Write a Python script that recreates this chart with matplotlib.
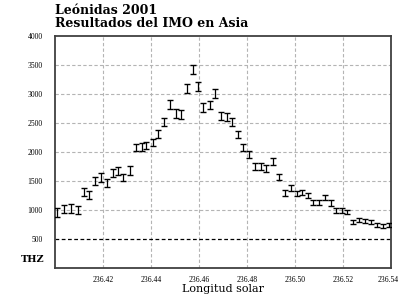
import matplotlib
matplotlib.use("Agg")
import matplotlib.pyplot as plt
import matplotlib.transforms as mtransforms

# ----------------------------
# Data
# ----------------------------
sol_long = [
    236.4008, 236.4038, 236.4067, 236.4096, 236.4121, 236.4142, 236.4167, 236.4192,
    236.4217, 236.4242, 236.4263, 236.4283, 236.4313, 236.4338, 236.4363, 236.4379,
    236.4408, 236.4429, 236.4454, 236.4479, 236.4504, 236.4525, 236.4550, 236.4575,
    236.4596, 236.4617, 236.4646, 236.4667, 236.4692, 236.4717, 236.4738, 236.4763,
    236.4783, 236.4808, 236.4833, 236.4858, 236.4879, 236.4908, 236.4933, 236.4958,
    236.4983, 236.5008, 236.5029, 236.5054, 236.5075, 236.5100, 236.5125, 236.5150,
    236.5171, 236.5196, 236.5217, 236.5242, 236.5267, 236.5292, 236.5317, 236.5342,
    236.5367, 236.5392,
]
zhr = [
    950, 1015, 1030, 1000, 1305, 1255, 1495, 1560,
    1460, 1630, 1665, 1560, 1680, 2075, 2090, 2110,
    2160, 2310, 2520, 2820, 2670, 2650, 3100, 3420,
    3130, 2770, 2810, 3010, 2620, 2600, 2520, 2300,
    2075, 1955, 1750, 1750, 1715, 1835, 1565, 1290,
    1375, 1290, 1305, 1255, 1135, 1135, 1220, 1120,
    985, 985, 965, 795, 830, 810, 795, 745,
    725, 745,
]
zhr_err = [
    75, 75, 75, 70, 70, 65, 70, 70,
    70, 70, 70, 65, 70, 65, 65, 65,
    65, 65, 70, 70, 75, 75, 80, 80,
    80, 75, 75, 75, 70, 70, 70, 65,
    65, 60, 55, 55, 55, 60, 55, 50,
    50, 45, 45, 45, 45, 45, 45, 45,
    40, 40, 40, 35, 35, 35, 35, 35,
    35, 35,
]
x_ticks = [236.42, 236.44, 236.46, 236.48, 236.50, 236.52, 236.54]
y_ticks = [500, 1000, 1500, 2000, 2500, 3000, 3500, 4000]

TITLE = "Leónidas 2001\nResultados del IMO en Asia"
XLABEL = "Longitud solar"

# ----------------------------
# Look
# ----------------------------
SERIF = ["DejaVu Serif"]
TICK_FONT = ["Liberation Serif"]
GRID_COLOR = "#b4b4b4"
SPINE_COLOR = "#404040"

fig = plt.figure(figsize=(4.0, 2.96), dpi=100)
ax = fig.add_axes([0.1375, 0.095, 0.84, 0.783])

ax.errorbar(sol_long, zhr, yerr=zhr_err, fmt="none", ecolor="black",
            elinewidth=0.9, capsize=2.3, capthick=1.0, zorder=3)

ax.set_xlim(236.40, 236.54)
ax.set_ylim(0, 4000)
ax.set_xticks(x_ticks)
ax.set_xticklabels([f"{v:.2f}" for v in x_ticks], family=TICK_FONT, fontsize=5.5)
ax.set_yticks(y_ticks)
ax.set_yticklabels([str(v) for v in y_ticks], family=TICK_FONT, fontsize=5.5)
ax.tick_params(axis="x", length=0, pad=6)
ax.tick_params(axis="y", length=0, pad=9)

# keep the last x label inside the canvas
last = ax.get_xticklabels()[-1]
last.set_transform(last.get_transform() +
                   mtransforms.ScaledTranslation(-3 / 100, 0, fig.dpi_scale_trans))

# Grid
for v in x_ticks[:-1]:
    ax.axvline(v, color=GRID_COLOR, linestyle=(0, (3, 2)), linewidth=0.8, zorder=1)
for v in y_ticks[1:-1]:
    ax.axhline(v, color=GRID_COLOR, linestyle=(0, (3, 2)), linewidth=0.8, zorder=1)
ax.axhline(500, color="black", linestyle=(0, (3, 2)), linewidth=0.9, zorder=1)

for s in ax.spines.values():
    s.set_color(SPINE_COLOR)
    s.set_linewidth(1.3)

# Texts
fig.text(0.1375, 0.985, TITLE, family=SERIF, fontweight="bold", fontsize=9,
         ha="left", va="top", linespacing=1.0)
ax.text(-0.03, 0.035, "THZ", transform=ax.transAxes, family=SERIF,
        fontweight="bold", fontsize=7, ha="right", va="center")
ax.set_xlabel(XLABEL, family=SERIF, fontsize=8, labelpad=0)

fig.savefig("out.png", dpi=100)
